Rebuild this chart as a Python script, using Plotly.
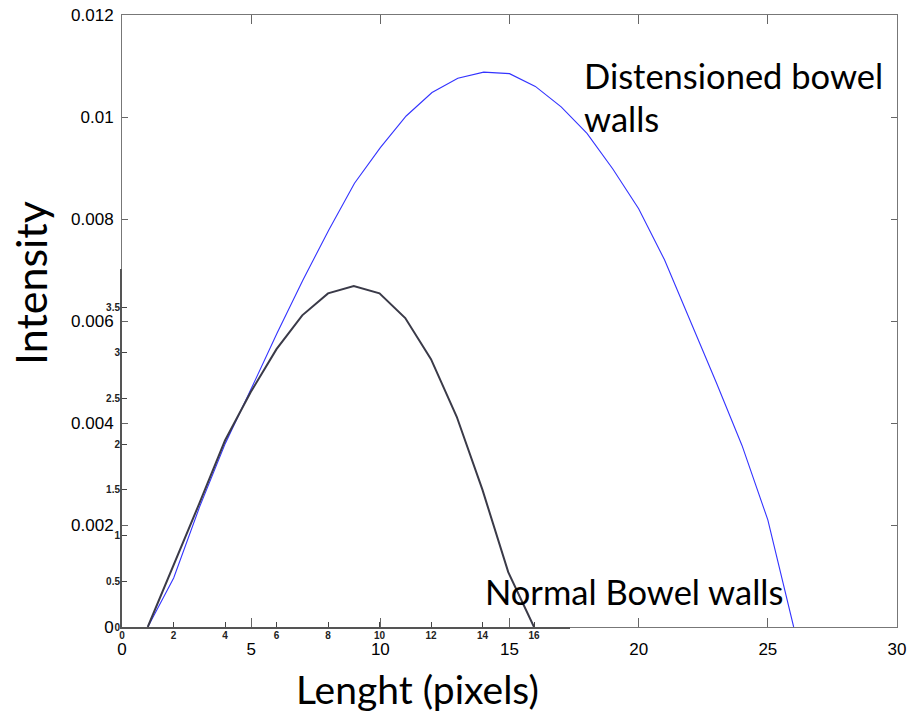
import plotly.graph_objects as go

# Outer chart: distensioned bowel walls
dist_x = list(range(1, 27))
dist_y = [0.0, 0.00096, 0.00235, 0.0036, 0.00467, 0.00576, 0.0068, 0.00778, 0.0087,
          0.0094, 0.01002, 0.01048, 0.01076, 0.01088, 0.01085, 0.0106, 0.0102, 0.00968,
          0.00898, 0.0082, 0.0072, 0.0060, 0.0048, 0.00356, 0.0021, 0.0]

# Inner (pasted) chart: normal bowel walls
norm_x = list(range(1, 17))
norm_y = [0.0, 0.67, 1.35, 2.04, 2.57, 3.04, 3.41, 3.65, 3.73, 3.65, 3.38, 2.93, 2.30,
          1.50, 0.60, 0.0]

outer_xticks = [0, 5, 10, 15, 20, 25, 30]
outer_yticks = [0, 0.002, 0.004, 0.006, 0.008, 0.01, 0.012]
outer_ylabels = ["0", "0.002", "0.004", "0.006", "0.008", "0.01", "0.012"]
inner_xticks = [0, 2, 4, 6, 8, 10, 12, 14, 16]
inner_yticks = [0, 0.5, 1, 1.5, 2, 2.5, 3, 3.5]
inner_ylabels = ["0", "0.5", "1", "1.5", "2", "2.5", "3", "3.5"]

W, H = 908, 713
L, R, T, B = 122, 11, 15, 86
pw, ph = W - L - R, H - T - B

fig = go.Figure()
fig.add_trace(go.Scatter(x=dist_x, y=dist_y, mode="lines",
                         line=dict(color="#3333ff", width=1.1),
                         xaxis="x", yaxis="y", showlegend=False))
fig.add_trace(go.Scatter(x=norm_x, y=norm_y, mode="lines",
                         line=dict(color="#3a3a48", width=2),
                         xaxis="x2", yaxis="y2", showlegend=False))

tickfont_outer = dict(family="Liberation Sans, Arial", size=17, color="black")
tickfont_inner = dict(family="Liberation Sans, Arial", size=10, color="#222", weight="bold")

fig.update_layout(
    width=W, height=H,
    margin=dict(l=L, r=R, t=T, b=B, autoexpand=False),
    paper_bgcolor="white", plot_bgcolor="rgba(0,0,0,0)",
    xaxis=dict(range=[0, 30], tickvals=outer_xticks, ticks="inside", ticklen=9,
               tickcolor="#666", linecolor="#777", linewidth=1, mirror="ticks",
               showline=True, showgrid=False, zeroline=False, tickfont=tickfont_outer,
               domain=[0, 1], anchor="y", automargin=False, ticklabelstandoff=7),
    yaxis=dict(range=[0, 0.012], tickvals=outer_yticks, ticktext=outer_ylabels,
               ticks="inside", ticklen=6, tickcolor="#666", linecolor="#777", linewidth=1,
               mirror="ticks", showline=True, showgrid=False, zeroline=False,
               tickfont=tickfont_outer, domain=[0, 1], anchor="x", ticklabelstandoff=4,
               automargin=False),
    xaxis2=dict(range=[0, (570 - 122) / 25.75], tickvals=inner_xticks, ticks="inside",
                ticklen=5, tickcolor="#444", linecolor="#555", linewidth=2, showline=True,
                showgrid=False, zeroline=False, tickfont=tickfont_inner,
                domain=[0, (570 - 122) / pw], anchor="y2", ticklabelstandoff=-2,
                automargin=False),
    yaxis2=dict(range=[0, (627 - 269) / 91.4], tickvals=inner_yticks, ticktext=inner_ylabels,
                ticks="inside", ticklen=5, tickcolor="#444", linecolor="#555", linewidth=2,
                showline=True, showgrid=False, zeroline=False, tickfont=tickfont_inner,
                domain=[0, (627 - 269) / ph], anchor="x2", ticklabelstandoff=-2,
                automargin=False),
)

txtfont = dict(family="Lato, Open Sans", size=34.5, color="black")
fig.add_annotation(text="Distensioned bowel", x=(582 - 122) / pw, y=(627 - 76) / ph,
                   xref="paper", yref="paper", xanchor="left", yanchor="middle",
                   showarrow=False, font=txtfont)
fig.add_annotation(text="walls", x=(582 - 122) / pw, y=(627 - 119) / ph,
                   xref="paper", yref="paper", xanchor="left", yanchor="middle",
                   showarrow=False, font=txtfont)
fig.add_annotation(text="Normal Bowel walls", x=(483 - 122) / pw, y=(627 - 591) / ph,
                   xref="paper", yref="paper", xanchor="left", yanchor="middle",
                   showarrow=False, font=txtfont)
fig.add_annotation(text="Intensity", x=(30 - 122) / pw, y=(627 - 283) / ph,
                   xref="paper", yref="paper", xanchor="center", yanchor="middle",
                   textangle=-90, showarrow=False,
                   font=dict(family="Lato, Open Sans", size=43, color="black"))
fig.add_annotation(text="Lenght (pixels)", x=(417 - 122) / pw, y=(627 - 689) / ph,
                   xref="paper", yref="paper", xanchor="center", yanchor="middle",
                   showarrow=False,
                   font=dict(family="Lato, Open Sans", size=39, color="black"))

fig.write_html("out.html")
